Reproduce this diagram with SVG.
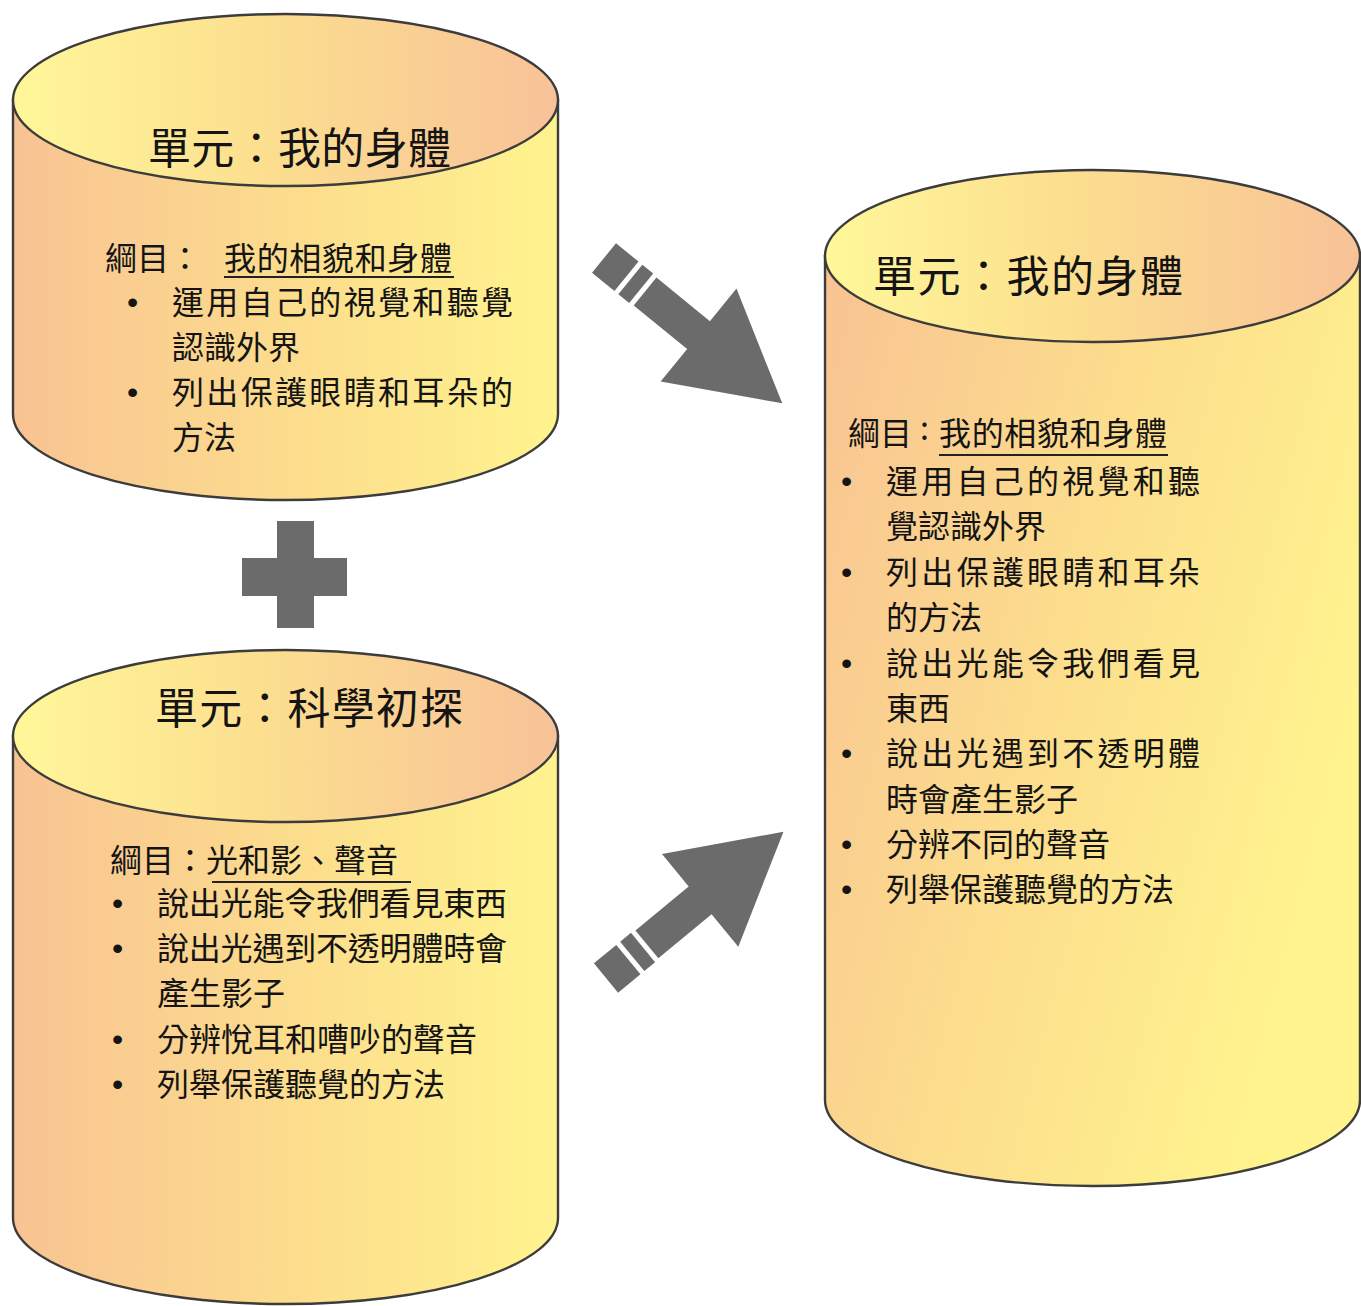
<svg xmlns="http://www.w3.org/2000/svg" width="1361" height="1306" viewBox="0 0 1361 1306">
<defs>
<linearGradient id="gTop" x1="0" y1="0" x2="1" y2="0">
<stop offset="0" stop-color="#FFF79A"/>
<stop offset="0.45" stop-color="#FCDF8F"/>
<stop offset="1" stop-color="#F8C298"/>
</linearGradient>
<linearGradient id="gBody" x1="0" y1="0" x2="1" y2="0">
<stop offset="0" stop-color="#F8C393"/>
<stop offset="0.5" stop-color="#FCDC8D"/>
<stop offset="1" stop-color="#FFF38E"/>
</linearGradient>
<linearGradient id="gBodyTall" x1="0" y1="0" x2="1" y2="0.45">
<stop offset="0" stop-color="#F8C393"/>
<stop offset="0.5" stop-color="#FCDC8D"/>
<stop offset="1" stop-color="#FFF38E"/>
</linearGradient>
<style>
.body{fill:url(#gBody);stroke:#3c3c3c;stroke-width:2.4}
.tall{fill:url(#gBodyTall)}
.top{fill:url(#gTop);stroke:#3c3c3c;stroke-width:2.4}
.t{font-family:"Noto Sans CJK TC","Noto Sans CJK SC",sans-serif;fill:#141414}
.title{font-size:43px}
.txt{font-size:32px}
.bul{font-family:"Liberation Sans",sans-serif;font-size:32px;fill:#141414}
.ul{stroke:#222;stroke-width:1.8}
.arr{fill:#6b6b6b}
</style>
</defs>

<g id="connectors">
<g transform="translate(604,258) rotate(39.2)">
<rect class="arr" x="0" y="-19" width="29" height="38"/>
<rect class="arr" x="34" y="-19" width="14" height="38"/>
<polygon class="arr" points="53,-18 122,-18 122,-60 230,0 122,60 122,18 53,18"/>
</g>
<g transform="translate(606,978) rotate(-39.5)">
<rect class="arr" x="0" y="-19" width="29" height="38"/>
<rect class="arr" x="34" y="-19" width="14" height="38"/>
<polygon class="arr" points="53,-18 122,-18 122,-60 230,0 122,60 122,18 53,18"/>
</g>
</g>

<g id="plus">
<rect class="arr" x="277" y="521" width="37" height="107"/>
<rect class="arr" x="242" y="558" width="105" height="38"/>
</g>

<g id="unit-body-left">
<path class="body" d="M13,100 L13,414 A272.5,86 0 0 0 558,414 L558,100 Z"/>
<ellipse class="top" cx="285.5" cy="100" rx="272.5" ry="86"/>
<text class="t title" x="148" y="164" textLength="303" lengthAdjust="spacing">單元：我的身體</text>
<text class="t txt" x="105" y="270">綱目：</text>
<text class="t txt" x="224" y="270" textLength="228" lengthAdjust="spacing">我的相貌和身體</text>
<line class="ul" x1="224" y1="277" x2="454" y2="277"/>
<text class="bul" x="127" y="313">•</text>
<text class="t txt" x="172" y="314" textLength="341" lengthAdjust="spacing">運用自己的視覺和聽覺</text>
<text class="t txt" x="172" y="359">認識外界</text>
<text class="bul" x="127" y="403">•</text>
<text class="t txt" x="172" y="404" textLength="341" lengthAdjust="spacing">列出保護眼睛和耳朵的</text>
<text class="t txt" x="172" y="449">方法</text>
</g>

<g id="unit-science">
<path class="body" d="M13,736 L13,1218 A272.5,86 0 0 0 558,1218 L558,736 Z"/>
<ellipse class="top" cx="285.5" cy="736" rx="272.5" ry="86"/>
<text class="t title" x="155" y="724" textLength="308" lengthAdjust="spacing">單元：科學初探</text>
<text class="t txt" x="110" y="872">綱目：光和影、聲音</text>
<line class="ul" x1="212" y1="882" x2="411" y2="882"/>
<text class="bul" x="112" y="914">•</text>
<text class="t txt" x="157" y="915" textLength="350" lengthAdjust="spacing">說出光能令我們看見東西</text>
<text class="bul" x="112" y="959">•</text>
<text class="t txt" x="157" y="960" textLength="350" lengthAdjust="spacing">說出光遇到不透明體時會</text>
<text class="t txt" x="157" y="1005">產生影子</text>
<text class="bul" x="112" y="1050">•</text>
<text class="t txt" x="157" y="1051">分辨悅耳和嘈吵的聲音</text>
<text class="bul" x="112" y="1095">•</text>
<text class="t txt" x="157" y="1096">列舉保護聽覺的方法</text>
</g>

<g id="unit-body-right">
<path class="body tall" d="M825,256 L825,1100 A267.5,86 0 0 0 1360,1100 L1360,256 Z"/>
<ellipse class="top" cx="1092.5" cy="256" rx="267.5" ry="86"/>
<text class="t title" x="873" y="292" textLength="310" lengthAdjust="spacing">單元：我的身體</text>
<text class="t txt" x="848" y="445">綱目</text>
<text class="t txt" x="920" y="440">:</text>
<text class="t txt" x="939" y="445" textLength="228" lengthAdjust="spacing">我的相貌和身體</text>
<line class="ul" x1="939" y1="455" x2="1168" y2="455"/>
<text class="bul" x="841" y="492">•</text>
<text class="t txt" x="886" y="493" textLength="314" lengthAdjust="spacing">運用自己的視覺和聽</text>
<text class="t txt" x="886" y="538">覺認識外界</text>
<text class="bul" x="841" y="583">•</text>
<text class="t txt" x="886" y="584" textLength="314" lengthAdjust="spacing">列出保護眼睛和耳朵</text>
<text class="t txt" x="886" y="629">的方法</text>
<text class="bul" x="841" y="674">•</text>
<text class="t txt" x="886" y="675" textLength="314" lengthAdjust="spacing">說出光能令我們看見</text>
<text class="t txt" x="886" y="720">東西</text>
<text class="bul" x="841" y="764">•</text>
<text class="t txt" x="886" y="765" textLength="314" lengthAdjust="spacing">說出光遇到不透明體</text>
<text class="t txt" x="886" y="811">時會產生影子</text>
<text class="bul" x="841" y="855">•</text>
<text class="t txt" x="886" y="856">分辨不同的聲音</text>
<text class="bul" x="841" y="900">•</text>
<text class="t txt" x="886" y="901">列舉保護聽覺的方法</text>
</g>
</svg>
